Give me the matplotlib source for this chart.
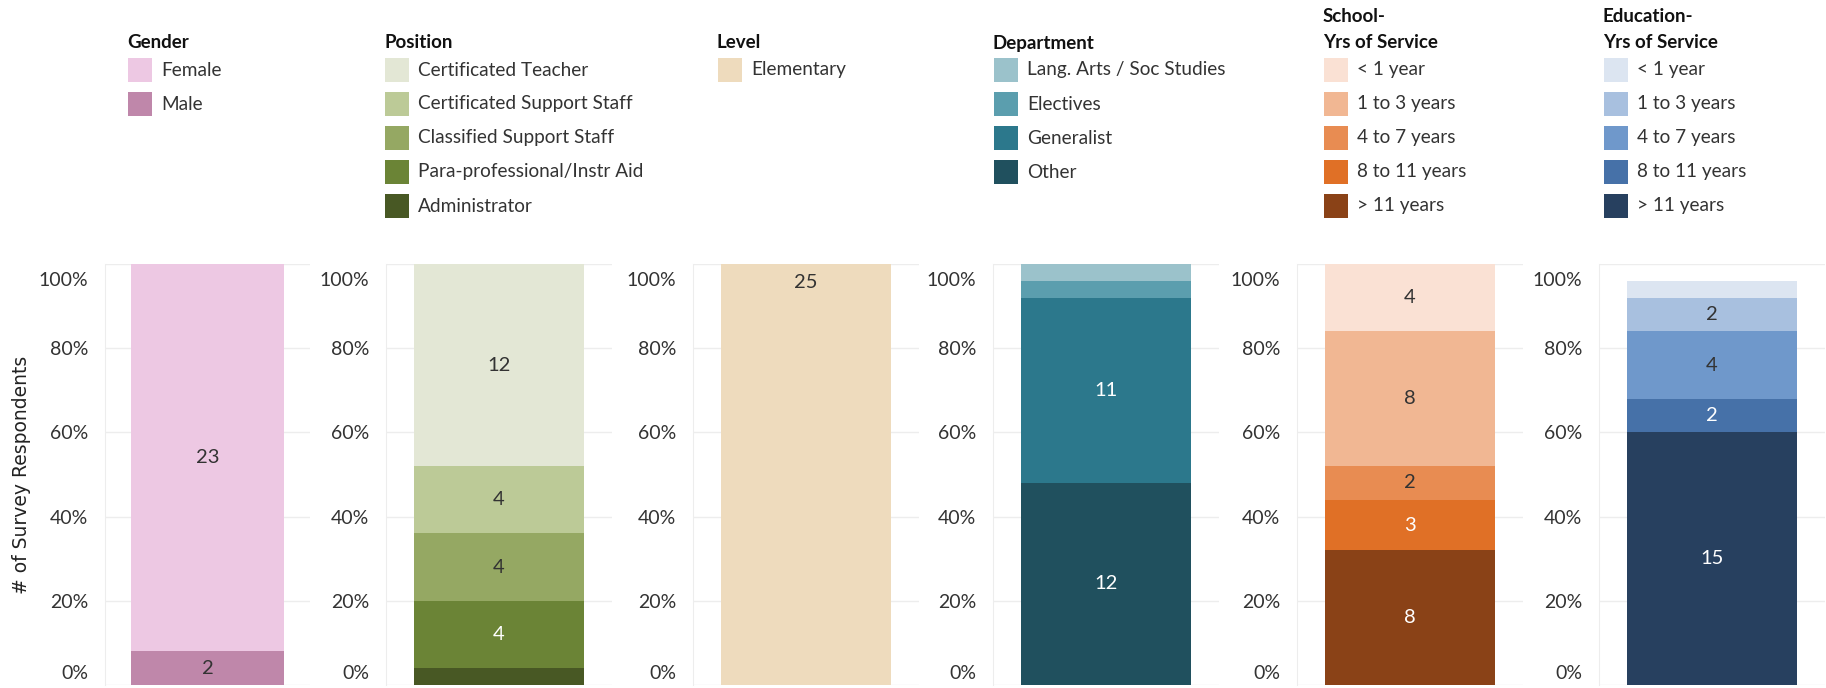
import matplotlib.pyplot as plt
from matplotlib.patches import Rectangle
from matplotlib.colors import to_rgb
from matplotlib.transforms import ScaledTranslation

plt.rcParams['font.family'] = ['Lato', 'DejaVu Sans']

# total respondents (bars are % of this)
N = 25

gender = ['Female', 'Male']
gender_n = [23, 2]
position = ['Certificated Teacher', 'Certificated Support Staff', 'Classified Support Staff',
            'Para-professional/Instr Aid', 'Administrator']
position_n = [12, 4, 4, 4, 1]
level = ['Elementary']
level_n = [25]
department = ['Lang. Arts / Soc Studies', 'Electives', 'Generalist', 'Other']
department_n = [1, 1, 11, 12]
years = ['< 1 year', '1 to 3 years', '4 to 7 years', '8 to 11 years', '> 11 years']
school_n = [4, 8, 2, 3, 8]
education_n = [1, 2, 4, 2, 15]

gender_colors = ['#EDC8E3', '#BF87AA']
position_colors = ['#E3E7D5', '#BCCA97', '#95A863', '#6B8436', '#485824']
level_colors = ['#EEDBBD']
department_colors = ['#9BC2CB', '#5B9EAE', '#2C788C', '#20505E']
school_colors = ['#FAE1D4', '#F1B793', '#E88C52', '#E07026', '#8A4217']
education_colors = ['#DCE5F1', '#A8C0DF', '#6F98CB', '#4671A8', '#27405F']

panels = [
    (['Gender'], gender, gender_n, gender_colors),
    (['Position'], position, position_n, position_colors),
    (['Level'], level, level_n, level_colors),
    (['Department'], department, department_n, department_colors),
    (['School-', 'Yrs of Service'], years, school_n, school_colors),
    (['Education-', 'Yrs of Service'], years, education_n, education_colors),
]

W, H = 1826, 688
fig = plt.figure(figsize=(W / 100, H / 100), dpi=100)

# overlay in pixel coords for legends and the y title
lay = fig.add_axes([0, 0, 1, 1])
lay.set_xlim(0, W)
lay.set_ylim(H, 0)
lay.axis('off')

ax_left = [105, 386, 693, 993, 1297, 1599]
ax_width = [205, 226, 226, 226, 226, 226]
leg_x = [128, 385, 718, 994, 1324, 1604]
top_px, bot_px = 264, 685


def lum(c):
    r, g, b = to_rgb(c)
    return 0.299 * r + 0.587 * g + 0.114 * b


for i, (title, cats, vals, cols) in enumerate(panels):
    ax = fig.add_axes([ax_left[i] / W, (H - bot_px) / H, ax_width[i] / W, (bot_px - top_px) / H])
    ax.set_xlim(-0.5, 0.5)
    ax.set_ylim(0, 1)

    # stacked bar, first category on top
    bottom = 0
    for cat, v, c in zip(cats[::-1], vals[::-1], cols[::-1]):
        h = v / N
        ax.bar(0, h, bottom=bottom, width=0.75, color=c, linewidth=0, zorder=2)
        if v > 1:
            tc = 'white' if lum(c) < 0.56 else '#333333'
            if len(vals) == 1:
                # tableau puts the single full-height label near the top
                ax.text(0, 0.957, str(v), ha='center', va='center', fontsize=14.5, color=tc, zorder=3)
            else:
                ax.text(0, bottom + h / 2, str(v), ha='center', va='center', fontsize=14.5, color=tc, zorder=3)
        bottom += h

    ax.set_yticks([0, 0.2, 0.4, 0.6, 0.8, 1.0])
    ax.set_yticklabels(['0%', '20%', '40%', '60%', '80%', '100%'])
    ax.set_xticks([])
    ax.grid(axis='y', color='#EDEDED', linewidth=1, zorder=0)
    ax.tick_params(axis='y', length=0, pad=12, labelsize=14, labelcolor='#333333')
    labs = ax.get_yticklabels()
    labs[0].set_verticalalignment('bottom')
    labs[0].set_transform(labs[0].get_transform() + ScaledTranslation(0, 2 / 72, fig.dpi_scale_trans))
    labs[-1].set_verticalalignment('top')
    labs[-1].set_transform(labs[-1].get_transform() + ScaledTranslation(0, -6 / 72, fig.dpi_scale_trans))
    for s in ['top', 'right', 'bottom']:
        ax.spines[s].set_visible(False)
    ax.spines['left'].set_color('#EDEDED')

    # legend
    x0 = leg_x[i]
    if len(title) == 1:
        lay.text(x0 - 1, 43, title[0], fontsize=13.5, fontweight='bold', va='center', ha='left', color='#111111')
    else:
        lay.text(x0 - 1, 17, title[0], fontsize=13.5, fontweight='bold', va='center', ha='left', color='#111111')
        lay.text(x0 - 1, 43, title[1], fontsize=13.5, fontweight='bold', va='center', ha='left', color='#111111')
    for j, (cat, c) in enumerate(zip(cats, cols)):
        yc = 70 + 34 * j
        lay.add_patch(Rectangle((x0, yc - 12), 24, 24, color=c, linewidth=0))
        lay.text(x0 + 33, yc, cat, fontsize=13.7, va='center', ha='left', color='#333333')

lay.text(22, (top_px + bot_px) / 2, '# of Survey Respondents', rotation=90, fontsize=13.5,
         family='DejaVu Sans', va='center', ha='center', color='#222222')

fig.savefig('out.png', dpi=100)
